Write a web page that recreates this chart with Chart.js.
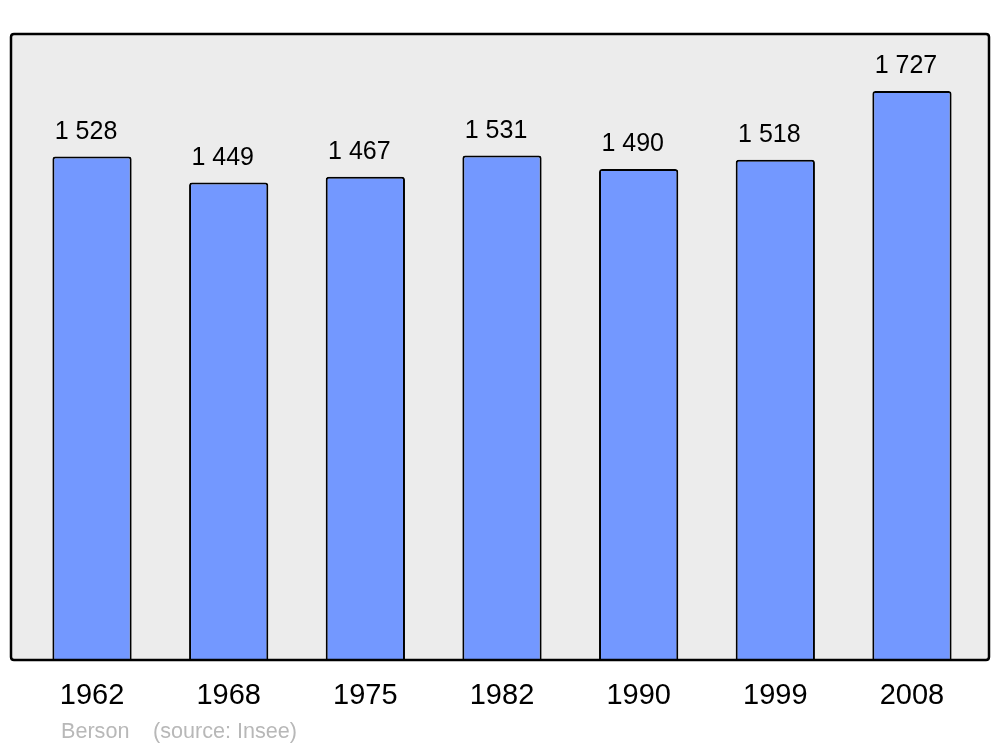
<!DOCTYPE html>
<html>
<head>
<meta charset="utf-8">
<script src="https://cdn.jsdelivr.net/npm/chart.js@4/dist/chart.umd.min.js"></script>
<style>
html,body{margin:0;padding:0;background:#fff;}
#wrap{width:1000px;height:747px;position:relative;}
</style>
</head>
<body>
<div id="wrap"><canvas id="c" width="1000" height="747"></canvas></div>
<script>
const years = ["1962", "1968", "1975", "1982", "1990", "1999", "2008"];
const population = [1528, 1449, 1467, 1531, 1490, 1518, 1727];
const yMax = 1900;
const townName = "Berson";
const sourceText = "(source: Insee)";

function fmt(v){ return String(v).replace(/\B(?=(\d{3})+(?!\d))/g, " "); }

function roundRect(ctx, x, y, w, h, r){
  ctx.beginPath();
  ctx.moveTo(x+r, y);
  ctx.lineTo(x+w-r, y);
  ctx.quadraticCurveTo(x+w, y, x+w, y+r);
  ctx.lineTo(x+w, y+h-r);
  ctx.quadraticCurveTo(x+w, y+h, x+w-r, y+h);
  ctx.lineTo(x+r, y+h);
  ctx.quadraticCurveTo(x, y+h, x, y+h-r);
  ctx.lineTo(x, y+r);
  ctx.quadraticCurveTo(x, y, x+r, y);
  ctx.closePath();
}

const framePlugin = {
  id: 'frame',
  beforeDatasetsDraw(chart){
    const ctx = chart.ctx;
    ctx.save();
    roundRect(ctx, 11, 34, 978, 626, 3);
    ctx.fillStyle = '#ececec';
    ctx.fill();
    ctx.restore();
  },
  afterDatasetsDraw(chart){
    const ctx = chart.ctx;
    ctx.save();
    roundRect(ctx, 11, 34, 978, 626, 3);
    ctx.lineWidth = 2.5;
    ctx.strokeStyle = '#000';
    ctx.stroke();
    // value labels
    const meta = chart.getDatasetMeta(0);
    ctx.fillStyle = '#000';
    ctx.font = '25px "Liberation Sans", Arial, sans-serif';
    ctx.textAlign = 'center';
    ctx.textBaseline = 'alphabetic';
    meta.data.forEach((bar, i) => {
      ctx.fillText(fmt(chart.data.datasets[0].data[i]), bar.x - 6, bar.y - 18);
    });
    // source
    ctx.fillStyle = '#b8b8b8';
    ctx.font = '21.6px "Liberation Sans", Arial, sans-serif';
    ctx.textAlign = 'left';
    ctx.fillText(townName, 61, 738);
    ctx.fillText(sourceText, 153, 738);
    ctx.restore();
  }
};

new Chart(document.getElementById('c'), {
  type: 'bar',
  data: {
    labels: years,
    datasets: [{
      data: population,
      backgroundColor: '#7398ff',
      borderColor: '#000',
      borderWidth: 2,
      borderSkipped: 'bottom',
      borderRadius: {topLeft: 3, topRight: 3, bottomLeft: 0, bottomRight: 0},
      barPercentage: 0.58,
      categoryPercentage: 1.0
    }]
  },
  options: {
    responsive: false,
    animation: false,
    devicePixelRatio: 1,
    layout: { padding: { left: 23.7, right: 19.7, top: 34, bottom: 0 } },
    plugins: { legend: { display: false }, tooltip: { enabled: false } },
    scales: {
      x: {
        grid: { display: false, drawTicks: false },
        border: { display: false },
        ticks: {
          color: '#000',
          font: { family: '"Liberation Sans", Arial, sans-serif', size: 29 },
          padding: 19,
          maxRotation: 0
        },
        afterFit(axis){ axis.height = 87; }
      },
      y: {
        display: false,
        min: 0,
        max: yMax
      }
    }
  },
  plugins: [framePlugin]
});
</script>
</body>
</html>
